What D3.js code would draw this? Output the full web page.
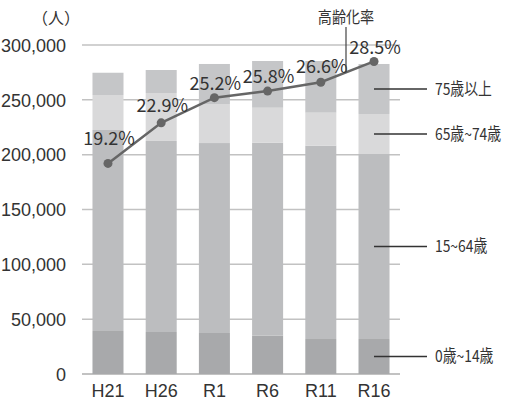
<!DOCTYPE html>
<html>
<head>
<meta charset="utf-8">
<script src="https://cdn.jsdelivr.net/npm/d3@7"></script>
<style>
  body { margin: 0; background: #fff; }
  text { font-family: "Liberation Sans Narrow", "Noto Sans CJK JP", sans-serif; fill: #333; }
</style>
</head>
<body>
<svg width="506" height="400"></svg>
<script>
var years = ["H21", "H26", "R1", "R6", "R11", "R16"];
var age0to14 = [39200, 38300, 37400, 34900, 31900, 31900];
var age15to64 = [183300, 174200, 173200, 176000, 176300, 168700];
var age65to74 = [31900, 43700, 35600, 31900, 30100, 36500];
var age75plus = [20300, 21000, 36500, 42600, 47100, 45600];
var agingRate = [19.2, 22.9, 25.2, 25.8, 26.6, 28.5];
var yTicks = [0, 50000, 100000, 150000, 200000, 250000, 300000];
var groupNames = ["0歳~14歳", "15~64歳", "65歳~74歳", "75歳以上"];

var colors = ["#a8a9ab", "#bcbdbf", "#d9d9da", "#c5c6c8"];

var svg = d3.select("svg"),
    plotL = 82, plotR = 400, plotT = 45, plotB = 374;

var x = d3.scaleBand()
    .domain(years)
    .range([plotL, plotR])
    .paddingInner(0.417)
    .paddingOuter(0.197);

var y = d3.scaleLinear()
    .domain([0, 300000])
    .range([plotB, plotT]);

// rate uses same vertical space: 0% .. 30%
var yRate = d3.scaleLinear()
    .domain([0, 30])
    .range([plotB, plotT]);

var rows = years.map(function(d, i) {
    return {year: d, a: age0to14[i], b: age15to64[i], c: age65to74[i], d: age75plus[i]};
});
var stack = d3.stack().keys(["a", "b", "c", "d"])(rows);

// grid
svg.append("g").selectAll("line")
    .data(yTicks)
    .enter()
    .append("line")
        .attr("x1", plotL)
        .attr("x2", plotR)
        .attr("y1", function(d) { return y(d); })
        .attr("y2", function(d) { return y(d); })
        .attr("stroke", "#c2c2c2")
        .attr("stroke-width", function(d) { return d === 0 ? 2 : 1.5; });

// y axis labels
var yAxis = svg.append("g")
    .attr("transform", "translate(66,0)")
    .call(d3.axisLeft(y).tickValues(yTicks).tickSize(0).tickPadding(0).tickFormat(d3.format(",")));
yAxis.select(".domain").remove();
yAxis.selectAll("text")
    .attr("font-size", 18)
    .attr("dy", "0.35em")
    .style("font-family", "Liberation Sans Narrow, sans-serif")
    .attr("fill", "#333");

svg.append("text")
    .attr("x", 56)
    .attr("y", 24)
    .attr("text-anchor", "middle")
    .attr("font-size", 16)
    .text("（人）");

// bars
svg.append("g").selectAll("g")
    .data(stack)
    .enter()
    .append("g")
        .attr("fill", function(d, i) { return colors[i]; })
    .selectAll("rect")
    .data(function(d) { return d; })
    .enter()
    .append("rect")
        .attr("x", function(d) { return x(d.data.year); })
        .attr("width", x.bandwidth())
        .attr("y", function(d) { return y(d[1]); })
        .attr("height", function(d) { return y(d[0]) - y(d[1]); });

// x axis labels
var xAxis = svg.append("g")
    .attr("transform", "translate(0," + plotB + ")")
    .call(d3.axisBottom(x).tickSize(0).tickPadding(0));
xAxis.select(".domain").remove();
xAxis.selectAll("text")
    .attr("font-size", 18)
    .attr("dy", "1.27em")
    .style("font-family", "Liberation Sans Narrow, sans-serif")
    .attr("fill", "#333");

// rate line
var cx = function(i) { return x(years[i]) + x.bandwidth() / 2; };
var line = d3.line()
    .x(function(d, i) { return cx(i); })
    .y(function(d) { return yRate(d); });

svg.append("path")
    .datum(agingRate)
    .attr("d", line)
    .attr("fill", "none")
    .attr("stroke", "#666")
    .attr("stroke-width", 2.5);

svg.append("g").selectAll("circle")
    .data(agingRate)
    .enter()
    .append("circle")
        .attr("cx", function(d, i) { return cx(i); })
        .attr("cy", function(d) { return yRate(d); })
        .attr("r", 4.5)
        .attr("fill", "#666");

var labelLift = [18, 11, 8, 8, 9, 7];
svg.append("g").selectAll("text")
    .data(agingRate)
    .enter()
    .append("text")
        .attr("x", function(d, i) { return cx(i) + 1; })
        .attr("y", function(d, i) { return yRate(d) - labelLift[i]; })
        .attr("text-anchor", "middle")
        .attr("font-size", 18)
        .attr("fill", "#222")
        .text(function(d) { return d.toFixed(1) + "%"; });

// 高齢化率 callout
var n = years.length;
var calloutX = 346;
var t = (calloutX - cx(n - 2)) / (cx(n - 1) - cx(n - 2));
var calloutY = yRate(agingRate[n - 2]) + t * (yRate(agingRate[n - 1]) - yRate(agingRate[n - 2]));
svg.append("line")
    .attr("x1", calloutX).attr("x2", calloutX)
    .attr("y1", 27).attr("y2", calloutY)
    .attr("stroke", "#444")
    .attr("stroke-width", 1.2);
svg.append("text")
    .attr("transform", "translate(" + calloutX + ",23) scale(0.88,1)")
    .attr("text-anchor", "middle")
    .attr("font-size", 16)
    .text("高齢化率");

// legend leaders on last bar
var last = n - 1;
stack.forEach(function(s, i) {
    var mid = (y(s[last][0]) + y(s[last][1])) / 2;
    svg.append("line")
        .attr("x1", cx(last)).attr("x2", 427)
        .attr("y1", mid).attr("y2", mid)
        .attr("stroke", "#333")
        .attr("stroke-width", 1.5);
    svg.append("text")
        .attr("transform", "translate(435," + mid + ") scale(0.84,1)")
        .attr("dy", "0.36em")
        .attr("font-size", 16.5)
        .text(groupNames[i]);
});
</script>
</body>
</html>
